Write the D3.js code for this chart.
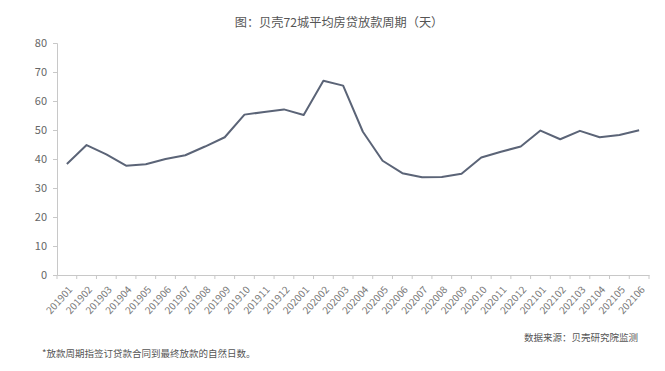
<!DOCTYPE html>
<html><head><meta charset="utf-8">
<script src="https://cdn.jsdelivr.net/npm/d3@7"></script>
<style>body{margin:0;background:#fff}svg{display:block}</style>
</head><body>
<svg id="c" width="665" height="371"></svg>
<script>
const categories = ["201901","201902","201903","201904","201905","201906","201907","201908","201909","201910","201911","201912","202001","202002","202003","202004","202005","202006","202007","202008","202009","202010","202011","202012","202101","202102","202103","202104","202105","202106"];
const values = [38.3,44.8,41.6,37.7,38.2,40.0,41.3,44.3,47.5,55.3,56.2,57.1,55.2,67.0,65.3,49.4,39.4,35.1,33.7,33.8,34.9,40.5,42.5,44.3,49.8,46.8,49.7,47.5,48.3,49.9];
const yTicks = [0,10,20,30,40,50,60,70,80];
const title = "图：贝壳72城平均房贷放款周期（天）";
const source = "数据来源：贝壳研究院监测";
const note = "*放款周期指签订贷款合同到最终放款的自然日数。";

const svg = d3.select("#c");
const font = "'Noto Sans CJK SC','Noto Sans',sans-serif";
const L = 57, R = 649, T = 43, B = 275;
const x = d3.scaleBand().domain(categories).range([L, R]);
const y = d3.scaleLinear().domain([0, 80]).range([B, T]);

svg.append("text").attr("x", 339).attr("y", 27).attr("text-anchor", "middle")
  .attr("font-family", font).attr("font-size", 12.2).attr("fill", "#555").text(title);

const ya = svg.append("g").attr("transform", `translate(${L},0)`)
  .call(d3.axisLeft(y).tickValues(yTicks).tickSize(4).tickPadding(6));
ya.select(".domain").attr("stroke", "#c8c8c8");
ya.selectAll(".tick line").attr("stroke", "#c8c8c8");
ya.selectAll(".tick text").attr("font-family", font).attr("font-size", 11).attr("fill", "#666");

const xa = svg.append("g").attr("transform", `translate(0,${B})`)
  .call(d3.axisBottom(x).tickSizeOuter(0).tickSize(0));
xa.select(".domain").attr("stroke", "#c8c8c8");
xa.selectAll(".tick text").attr("font-family", font).attr("font-size", 10).attr("fill", "#777")
  .attr("text-anchor", "end").attr("dy", 0).attr("dx", 0)
  .attr("transform", "translate(4,13) rotate(-48)");
// boundary tick marks
const bounds = categories.map(c => x(c)).concat([R]);
svg.append("g").selectAll("line").data(bounds).join("line")
  .attr("x1", d => d).attr("x2", d => d).attr("y1", B).attr("y2", B + 4)
  .attr("stroke", "#c8c8c8");

const line = d3.line().x((d, i) => x(categories[i]) + x.bandwidth() / 2).y(d => y(d));
svg.append("path").datum(values).attr("d", line).attr("fill", "none")
  .attr("stroke", "#5b6477").attr("stroke-width", 2).attr("stroke-linejoin", "round");

svg.append("text").attr("x", 638).attr("y", 341).attr("text-anchor", "end")
  .attr("font-family", font).attr("font-size", 9.5).attr("fill", "#555").text(source);
svg.append("text").attr("x", 42).attr("y", 357)
  .attr("font-family", font).attr("font-size", 9.5).attr("fill", "#555").text(note);
</script>
</body></html>
